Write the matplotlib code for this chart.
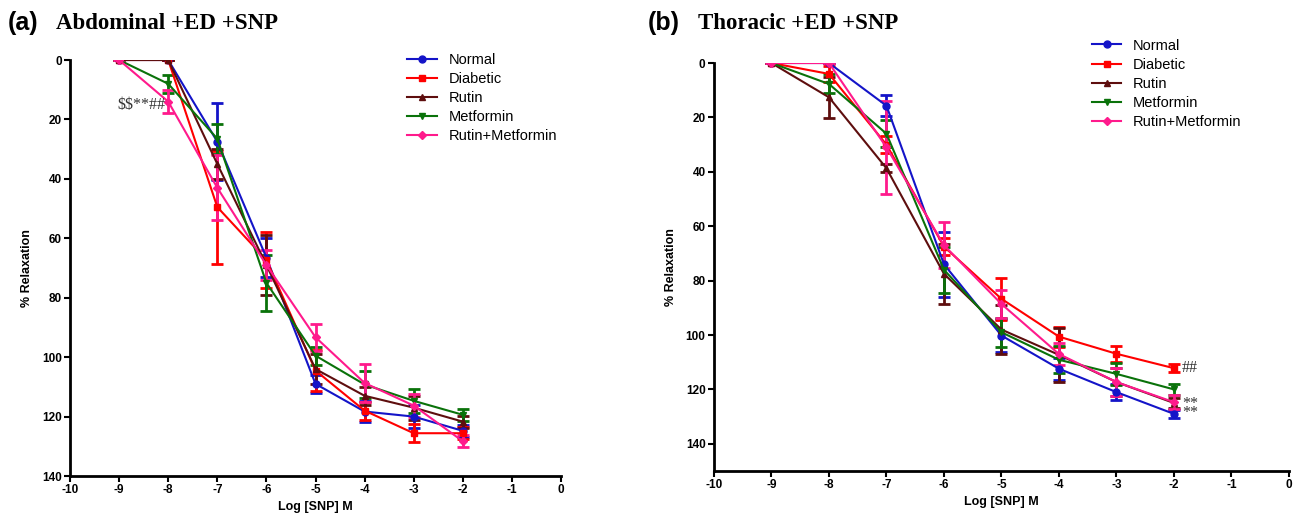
import matplotlib.pyplot as plt

# Dosis (log M)
log_snp = [-9, -8, -7, -6, -5, -4, -3, -2]
grupos = ['Normal', 'Diabetic', 'Rutin', 'Metformin', 'Rutin+Metformin']

# (a) Abdominal +ED +SNP : medias y errores
abd_normal = [0, 0, 27.5, 66.5, 109, 118.3, 120, 124.8]
abd_normal_err = [0, 0, 13, 6.5, 3, 3.5, 4, 2]
abd_diabetic = [0, 0, 49.5, 67.3, 104.5, 118, 125.6, 125.6]
abd_diabetic_err = [0, 0, 19, 9.4, 7, 3, 3, 2]
abd_rutin = [0, 0, 35, 69, 104, 113, 117, 121.7]
abd_rutin_err = [0, 0, 5, 10, 5, 3, 4, 2]
abd_metformin = [0, 8, 26.5, 75, 99.5, 109.2, 114.7, 119.4]
abd_metformin_err = [0, 3, 5, 9.5, 3, 4.5, 4, 2]
abd_rm = [0, 14, 43, 69, 93.3, 108.7, 116.3, 128.3]
abd_rm_err = [0, 4, 11, 5, 4.5, 6.5, 4, 2]

# (b) Thoracic +ED +SNP : medias y errores
tor_normal = [0, 0, 15.7, 74, 100.2, 112.4, 121, 129]
tor_normal_err = [0, 0, 3.8, 12, 6, 4, 3, 1.5]
tor_diabetic = [0, 4, 30, 67.5, 86.7, 100.6, 106.9, 112.2]
tor_diabetic_err = [0, 3, 3, 3, 7.6, 3.7, 3, 1.5]
tor_rutin = [0, 12.6, 38.7, 77.5, 98, 107.3, 117.3, 125]
tor_rutin_err = [0, 7.5, 1.5, 11, 9, 10, 5, 2]
tor_metformin = [0, 7.7, 26, 76, 99, 109.1, 114.3, 120]
tor_metformin_err = [0, 3.5, 5, 8.5, 5.4, 5, 4, 2]
tor_rm = [0, 0, 31, 67, 88.6, 107, 117.3, 124.7]
tor_rm_err = [0, 0, 17, 8.5, 5, 4, 5, 2.5]

colores = {
    'Normal': '#1414C8',
    'Diabetic': '#FF0000',
    'Rutin': '#5E0E0E',
    'Metformin': '#0A720A',
    'Rutin+Metformin': '#FF1A8C',
}
marcadores = {
    'Normal': 'o',
    'Diabetic': 's',
    'Rutin': '^',
    'Metformin': 'v',
    'Rutin+Metformin': 'D',
}

datos_abd = {
    'Normal': (abd_normal, abd_normal_err),
    'Diabetic': (abd_diabetic, abd_diabetic_err),
    'Rutin': (abd_rutin, abd_rutin_err),
    'Metformin': (abd_metformin, abd_metformin_err),
    'Rutin+Metformin': (abd_rm, abd_rm_err),
}
datos_tor = {
    'Normal': (tor_normal, tor_normal_err),
    'Diabetic': (tor_diabetic, tor_diabetic_err),
    'Rutin': (tor_rutin, tor_rutin_err),
    'Metformin': (tor_metformin, tor_metformin_err),
    'Rutin+Metformin': (tor_rm, tor_rm_err),
}

plt.rcParams['font.family'] = ['Liberation Sans', 'DejaVu Sans']
plt.rcParams['axes.unicode_minus'] = False

fig = plt.figure(figsize=(13.04, 5.2), dpi=100)
ax_a = fig.add_axes([0.0537, 0.0846, 0.3765, 0.80])
ax_b = fig.add_axes([0.5475, 0.0942, 0.4410, 0.7846])


def dibujar_panel(ax, datos, ymax, pos_leyenda):
    for g in grupos:
        y, err = datos[g]
        ax.errorbar(log_snp, y, yerr=err, color=colores[g], marker=marcadores[g],
                    markersize=5 if marcadores[g] != 'D' else 4, linewidth=1.5,
                    elinewidth=2, capsize=4, capthick=2, label=g)
    ax.set_xlim(-10, 0)
    ax.set_ylim(ymax, 0)
    ax.set_xticks(range(-10, 1))
    ax.set_yticks(range(0, 141, 20))
    for s in ['top', 'right']:
        ax.spines[s].set_visible(False)
    for s in ['left', 'bottom']:
        ax.spines[s].set_linewidth(2)
    ax.tick_params(width=1.5, length=4, labelsize=8.5, pad=2)
    for lab in ax.get_xticklabels() + ax.get_yticklabels():
        lab.set_fontweight('bold')
    ax.set_xlabel('Log [SNP] M', fontsize=9, fontweight='bold', labelpad=3)
    ax.set_ylabel('% Relaxation', fontsize=9, fontweight='bold', labelpad=6)
    handles, labels = ax.get_legend_handles_labels()
    handles = [h[0] for h in handles]
    ax.legend(handles, labels, loc='upper left', bbox_to_anchor=pos_leyenda,
              bbox_transform=fig.transFigure, frameon=False, fontsize=10.5,
              handlelength=2.0, handletextpad=0.8, labelspacing=0.35,
              borderaxespad=0)


dibujar_panel(ax_a, datos_abd, 140, (0.308, 0.91))
dibujar_panel(ax_b, datos_tor, 150, (0.833, 0.937))

# Anotaciones de significancia
ax_a.text(-8.05, 15, r'\$\$**##', fontsize=11.5, family='Liberation Serif',
          ha='right', va='center', color='#333333')
ax_b.text(-1.86, 112.2, '##', fontsize=11.5, family='Liberation Serif',
          ha='left', va='center', color='#333333')
ax_b.text(-1.86, 127, '**\n**', fontsize=11.5, family='Liberation Serif',
          ha='left', va='center', color='#333333', linespacing=0.45)

# Títulos de panel
fig.text(0.006, 0.955, '(a)', fontsize=18, fontweight='bold', va='center')
fig.text(0.043, 0.955, 'Abdominal +ED +SNP', fontsize=16.5, fontweight='bold',
         family='Liberation Serif', va='center')
fig.text(0.497, 0.955, '(b)', fontsize=18, fontweight='bold', va='center')
fig.text(0.535, 0.955, 'Thoracic +ED +SNP', fontsize=16.5, fontweight='bold',
         family='Liberation Serif', va='center')

plt.savefig('out.png', dpi=100)
